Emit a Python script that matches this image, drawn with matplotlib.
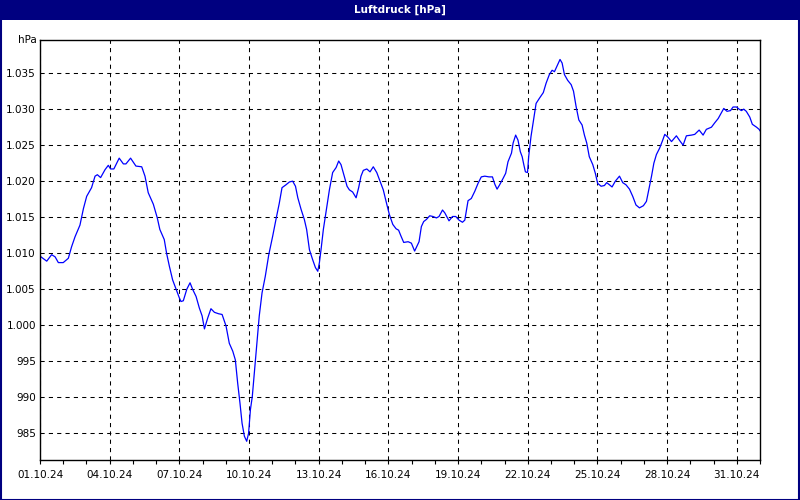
import matplotlib
matplotlib.use("Agg")
import matplotlib.pyplot as plt
import matplotlib.dates as mdates
from matplotlib.patches import Rectangle
from matplotlib.ticker import FuncFormatter, FixedLocator
import pandas as pd

# Luftdruck Oktober 2024 (Tage ab 01.10.24 00:00, Wert in hPa)
start = "2024-10-01"
tage = [0.0, 0.29, 0.5, 0.65, 0.79, 1.0, 1.22, 1.36, 1.51, 1.72, 1.87, 2.01, 2.22, 2.37, 2.47, 2.61,
        2.80, 2.94, 3.04, 3.18, 3.41, 3.59, 3.70, 3.90, 4.13, 4.38, 4.52, 4.66, 4.88, 5.05, 5.16,
        5.35, 5.45, 5.57, 5.71, 5.86, 6.0, 6.07, 6.17, 6.32, 6.46, 6.57, 6.72, 6.86, 6.98, 7.08,
        7.22, 7.36, 7.51, 7.69, 7.84, 8.01, 8.15, 8.30, 8.41, 8.51, 8.61, 8.70, 8.80, 8.90, 8.98,
        9.06, 9.14, 9.24, 9.34, 9.44, 9.56, 9.70, 9.85, 10.02, 10.16, 10.30, 10.42, 10.59, 10.74,
        10.88, 11.0, 11.10, 11.24, 11.38, 11.48, 11.60, 11.74, 11.86, 11.96, 12.03, 12.10, 12.20,
        12.32, 12.46, 12.60, 12.75, 12.86, 12.96, 13.10, 13.22, 13.32, 13.46, 13.61, 13.72, 13.82,
        13.92, 14.07, 14.21, 14.35, 14.50, 14.64, 14.78, 14.90, 15.04, 15.19, 15.33, 15.44, 15.54,
        15.66, 15.85, 15.99, 16.13, 16.32, 16.42, 16.52, 16.64, 16.78, 16.92, 17.07, 17.18, 17.33,
        17.43, 17.61, 17.76, 17.90, 18.04, 18.19, 18.29, 18.43, 18.57, 18.72, 18.86, 19.0, 19.15,
        19.33, 19.48, 19.58, 19.68, 19.79, 19.94, 20.05, 20.15, 20.30, 20.37, 20.48, 20.58, 20.68,
        20.76, 20.83, 20.90, 20.99, 21.04, 21.14, 21.24, 21.36, 21.50, 21.67, 21.79, 21.93, 22.05,
        22.15, 22.29, 22.39, 22.48, 22.58, 22.72, 22.87, 22.97, 23.08, 23.20, 23.34, 23.44, 23.54,
        23.65, 23.80, 23.91, 24.01, 24.16, 24.30, 24.40, 24.52, 24.63, 24.77, 24.95, 25.09, 25.23,
        25.38, 25.52, 25.66, 25.81, 25.98, 26.11, 26.23, 26.33, 26.43, 26.54, 26.68, 26.80, 26.90,
        27.04, 27.19, 27.40, 27.55, 27.69, 27.83, 28.05, 28.19, 28.38, 28.55, 28.69, 28.91, 29.05,
        29.20, 29.34, 29.44, 29.58, 29.73, 29.84, 29.99, 30.10, 30.20, 30.30, 30.41, 30.56, 30.67,
        30.85, 30.96, 31.0]
druck = [1009.6, 1008.9, 1009.8, 1009.5, 1008.7, 1008.7, 1009.3, 1010.9, 1012.3, 1013.9, 1016.2,
         1017.9, 1019.1, 1020.7, 1020.9, 1020.5, 1021.6, 1022.2, 1021.7, 1021.7, 1023.2, 1022.4,
         1022.4, 1023.2, 1022.1, 1022.0, 1020.7, 1018.4, 1016.8, 1014.9, 1013.3, 1011.9, 1010.0,
         1008.2, 1006.3, 1005.0, 1003.8, 1003.3, 1003.4, 1005.0, 1005.9, 1005.0, 1004.0, 1002.4,
         1001.3, 999.5, 1001.0, 1002.3, 1001.8, 1001.6, 1001.5, 999.9, 997.5, 996.4, 995.2, 992.0,
         989.2, 986.4, 984.6, 983.9, 985.0, 988.3, 990.1, 993.8, 997.5, 1001.3, 1004.5, 1006.8,
         1009.8, 1012.4, 1014.7, 1016.9, 1019.1, 1019.5, 1019.9, 1020.0, 1019.3, 1017.7, 1016.1,
         1014.7, 1013.3, 1010.5, 1009.1, 1008.0, 1007.5, 1008.7, 1010.5, 1013.3, 1015.8, 1018.8,
         1021.2, 1021.9, 1022.8, 1022.3, 1020.7, 1019.3, 1018.8, 1018.5, 1017.7, 1019.1, 1020.7,
         1021.5, 1021.7, 1021.3, 1022.0, 1021.2, 1020.0, 1018.8, 1017.2, 1015.4, 1014.0, 1013.4,
         1013.2, 1012.4, 1011.5, 1011.6, 1011.4, 1010.3, 1011.6, 1013.7, 1014.4, 1014.7, 1015.2,
         1015.1, 1014.9, 1015.1, 1016.0, 1015.6, 1014.5, 1015.1, 1015.1, 1014.6, 1014.3, 1014.6,
         1017.3, 1017.6, 1018.6, 1019.7, 1020.6, 1020.7, 1020.6, 1020.6, 1019.6, 1018.9, 1019.5,
         1020.4, 1021.1, 1022.7, 1023.9, 1025.3, 1026.4, 1025.7, 1024.1, 1023.4, 1022.3, 1021.3,
         1021.2, 1023.4, 1026.2, 1028.3, 1030.8, 1031.5, 1032.3, 1033.6, 1034.8, 1035.4, 1035.2,
         1036.2, 1036.9, 1036.4, 1034.8, 1034.0, 1033.4, 1032.5, 1030.4, 1028.5, 1027.8, 1026.4,
         1025.3, 1023.4, 1022.3, 1021.1, 1019.7, 1019.3, 1019.4, 1019.8, 1019.5, 1019.2, 1020.0,
         1020.7, 1019.8, 1019.5, 1018.9, 1017.9, 1016.7, 1016.3, 1016.6, 1017.2, 1019.1, 1020.7,
         1022.5, 1023.7, 1024.6, 1025.6, 1026.5, 1026.1, 1025.5, 1026.3, 1025.6, 1025.0, 1026.3,
         1026.4, 1026.5, 1027.1, 1026.4, 1027.2, 1027.5, 1028.1, 1028.7, 1029.5, 1030.1, 1029.7,
         1029.8, 1030.3, 1030.3, 1030.0, 1029.8, 1030.0, 1029.7, 1028.9, 1027.9, 1027.5, 1027.2,
         1027.0]
# beschriftete Tage im Oktober
label_tage = [1, 4, 7, 10, 13, 16, 19, 22, 25, 28, 31]

zeit = pd.Timestamp(start) + pd.to_timedelta(tage, unit="D")
label_zeit = [pd.Timestamp(2024, 10, d) for d in label_tage]

navy = "#000080"
fig = plt.figure(figsize=(8, 5), dpi=100, facecolor="white")
ax = fig.add_axes([0.05, 0.08, 0.9, 0.84])

# Titelleiste wie im Fenster
fig.patches.append(Rectangle((0, 0.96), 1, 0.04, transform=fig.transFigure,
                             facecolor=navy, edgecolor="none", zorder=0))
fig.patches.append(Rectangle((0.001, 0.001), 0.998, 0.998, transform=fig.transFigure,
                             facecolor="none", edgecolor=navy, linewidth=1.5, zorder=5))
fig.text(0.5, 0.98, "Luftdruck [hPa]", color="white", fontsize=7.5, fontweight="bold",
         ha="center", va="center")

ax.plot(zeit, druck, color="#0000ff", linewidth=0.9)

ax.set_xlim(pd.Timestamp(start), pd.Timestamp(start) + pd.Timedelta(days=31))
ax.set_ylim(981.3, 1039.6)

ax.xaxis.set_major_locator(FixedLocator(mdates.date2num(label_zeit)))
ax.xaxis.set_minor_locator(mdates.DayLocator())
ax.xaxis.set_major_formatter(mdates.DateFormatter("%d.%m.%y"))
ax.set_yticks(range(985, 1036, 5))
# deutsche Tausenderpunkte
ax.yaxis.set_major_formatter(FuncFormatter(lambda v, p: f"{int(v):,}".replace(",", ".")))

ax.tick_params(axis="x", which="both", length=3, width=0.8, direction="out", pad=4,
               labelsize=7.5, colors="black")
ax.tick_params(axis="y", length=0, pad=3, labelsize=7.5)
for s in ax.spines.values():
    s.set_linewidth(1.0)
    s.set_color("black")

ax.grid(True, which="major", color="black", linestyle=(0, (4, 4)), linewidth=0.75)
ax.set_axisbelow(True)

ax.text(-0.004, 1.0, "hPa", transform=ax.transAxes, ha="right", va="center", fontsize=7.5)

fig.savefig("out.png", dpi=100, facecolor="white")
